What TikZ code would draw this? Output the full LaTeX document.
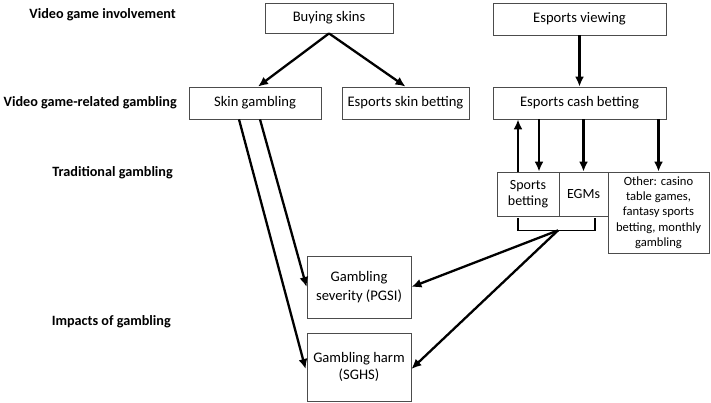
\documentclass[tikz,border=0pt]{standalone}
\usepackage{fontspec}
\setmainfont{Carlito}
\usetikzlibrary{arrows.meta,calc}
\begin{document}
\begin{tikzpicture}[x=1pt,y=-1pt,
  box/.style={draw=black!70,line width=0.8pt,rectangle,inner sep=2pt,align=center,font=\fontsize{14.6}{17}\selectfont},
  lab/.style={font=\bfseries\fontsize{14.2}{17}\selectfont,anchor=east,inner sep=0pt},
  arr/.style={line width=2.3pt,-{Latex[length=10pt,width=9pt]}}]
\useasboundingbox (0,0) rectangle (711,403);
% row labels
\node[lab] (l1) at (176,15) {Video game involvement};
\node[lab] (l2) at (177,103) {Video game-related gambling};
\node[lab] (l3) at (173,173) {Traditional gambling};
\node[lab] (l4) at (171,322) {Impacts of gambling};
% boxes
\node[box,minimum width=128pt,minimum height=30pt] (bs) at (329,18) {Buying skins};
\node[box,minimum width=173pt,minimum height=32pt] (ev) at (579.5,19) {Esports viewing};
\node[box,minimum width=132pt,minimum height=32pt] (sg) at (255,103) {Skin gambling};
\node[box,minimum width=127pt,minimum height=32pt] (esb) at (405.5,103) {Esports skin betting};
\node[box,minimum width=173pt,minimum height=32pt] (ecb) at (579.5,103) {Esports cash betting};
\node[box,minimum width=62pt,minimum height=44pt,font=\fontsize{14}{16}\selectfont] (sb) at (528,194) {Sports\\betting};
\node[box,minimum width=49pt,minimum height=44pt,font=\fontsize{14}{16}\selectfont] (egm) at (583.5,194) {EGMs};
\node[box,minimum width=101pt,minimum height=81pt,font=\fontsize{12.6}{15.3}\selectfont] (oth) at (658.5,212.5) {Other: casino\\table games,\\fantasy sports\\betting, monthly\\gambling};
\node[box,minimum width=104pt,minimum height=62pt,font=\fontsize{14.6}{19}\selectfont] (sev) at (359,287) {Gambling\\severity (PGSI)};
\node[box,minimum width=104pt,minimum height=68pt,font=\fontsize{14.6}{17.5}\selectfont] (harm) at (359,367) {Gambling harm\\(SGHS)};
% arrows top
\draw[arr] (bs.south) -- ([xshift=3pt]sg.north);
\draw[arr] (bs.south) -- (esb.north);
\draw[arr] (ev.south) -- (ecb.north);
% cash betting to traditional
\coordinate (u) at ([xshift=-10pt]sb.north);
\coordinate (d) at ([xshift=11pt]sb.north);
\draw[arr] (u) -- (u |- ecb.south);
\draw[arr] (d |- ecb.south) -- (d);
\draw[arr] (egm.north |- ecb.south) -- (egm.north);
\draw[arr] (oth.north |- ecb.south) -- (oth.north);
% bracket
\coordinate (b1) at ([xshift=-10pt,yshift=-2pt]sb.south);
\coordinate (b2) at ([xshift=11.5pt,yshift=-2pt]egm.south);
\coordinate (bm) at ([yshift=-14pt]sb.south -| 558,0);
\draw[line width=1.6pt] (b1) -- ++(0,12) -| (b2);
\draw[arr] (bm) -- (sev.east);
\draw[arr] (bm) -- ([yshift=-2pt]harm.east);
% skin gambling to impacts
\draw[arr] ([xshift=5pt]sg.south) -- (sev.west);
\draw[arr] ([xshift=-16pt]sg.south) -- ([xshift=-1pt,yshift=-2pt]harm.west);
\end{tikzpicture}
\end{document}
